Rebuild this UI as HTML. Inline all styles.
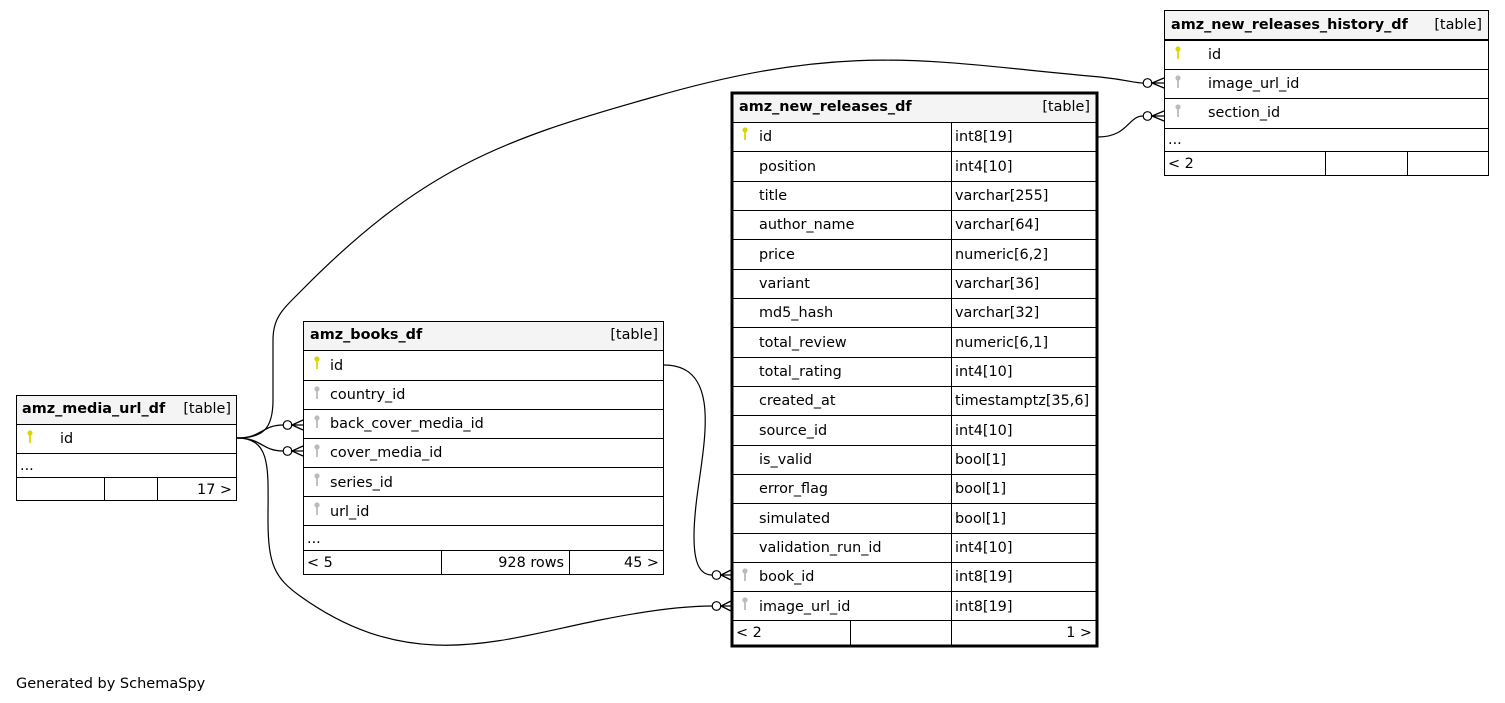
<!DOCTYPE html>
<html><head><meta charset="utf-8"><style>
html,body{margin:0;padding:0;background:#fff;}
svg{display:block;font-family:"DejaVu Sans","Liberation Sans",sans-serif;font-size:14.4px;}
</style></head><body>
<svg width="1505" height="703" viewBox="0 0 1505 703" xmlns="http://www.w3.org/2000/svg">
<defs>
<g id="kp"><circle cx="0" cy="-3" r="2.6" fill="#d8d800"/><rect x="-0.9" y="-1" width="1.8" height="8" fill="#d8d800"/></g>
<g id="kf"><circle cx="0" cy="-3" r="2.6" fill="#bbb"/><rect x="-0.9" y="-1" width="1.8" height="8" fill="#bbb"/></g>
</defs>
<g fill="none" stroke="#000" stroke-width="1.2">
<path d="M237,438 C262,438 273,430 273,400 L273,340 C273,318 282,310 300,292 C420,170 500,140 650,98 C850,40 930,62 1100,77 C1128,80 1135,83 1143,83"/>
<path d="M237,438 C262,438 262,425 283,425"/>
<path d="M237,438 C262,438 262,451 283,451"/>
<path d="M237,438 C272,438 268,470 268,520 C268,565 275,578 300,596 C410,675 500,640 600,620 C655,609 690,606 712,606"/>
<path d="M664,365 C725,365 702,450 696,505 C690,560 698,575 712,575"/>
<path d="M1098,137 C1128,137 1128,116 1143,116"/>
</g>
<g fill="#fff" stroke="#000" stroke-width="1.2">
<circle cx="287.5" cy="425" r="4.3"/><circle cx="287.5" cy="451" r="4.3"/>
<circle cx="716.5" cy="575" r="4.3"/><circle cx="716.5" cy="606" r="4.3"/>
<circle cx="1147.5" cy="83" r="4.3"/><circle cx="1147.5" cy="116" r="4.3"/>
</g>
<g fill="none" stroke="#000" stroke-width="1.3">
<path d="M303,420 L292,425 L303,430 M292,425 L303,425"/>
<path d="M303,446 L292,451 L303,456 M292,451 L303,451"/>
<path d="M731,570 L721,575 L731,580 M721,575 L731,575"/>
<path d="M731,601 L721,606 L731,611 M721,606 L731,606"/>
<path d="M1164,78 L1152,83 L1164,88 M1152,83 L1164,83"/>
<path d="M1164,111 L1152,116 L1164,121 M1152,116 L1164,116"/>
</g>

<!-- amz_media_url_df -->
<rect x="16.5" y="395.5" width="220" height="29" fill="#f4f4f4" stroke="#000"/>
<g stroke="#000" fill="none">
<rect x="16.5" y="395.5" width="220" height="105"/>
<path d="M16,424.5H237M16,453.5H237M16,477.5H237M104.5,477V501M157.5,477V501"/>
</g>
<text x="22" y="413" font-weight="bold">amz_media_url_df</text>
<text x="231" y="413" text-anchor="end">[table]</text>
<use href="#kp" x="30" y="436"/><text x="60" y="443">id</text>
<text x="20" y="470">...</text>
<text x="232" y="494" text-anchor="end">17 &gt;</text>

<!-- amz_books_df -->
<rect x="303.5" y="321.5" width="360" height="29" fill="#f4f4f4" stroke="#000"/>
<g stroke="#000" fill="none">
<rect x="303.5" y="321.5" width="360" height="253"/>
<path d="M303,350.5H664M303,380.5H664M303,409.5H664M303,438.5H664M303,467.5H664M303,496.5H664M303,525.5H664M303,550.5H664M441.5,550V575M569.5,550V575"/>
</g>
<text x="310" y="339" font-weight="bold">amz_books_df</text>
<text x="658" y="339" text-anchor="end">[table]</text>
<use href="#kp" x="317" y="362"/><text x="330" y="370">id</text>
<use href="#kf" x="317" y="392"/><text x="330" y="399">country_id</text>
<use href="#kf" x="317" y="421"/><text x="330" y="428">back_cover_media_id</text>
<use href="#kf" x="317" y="450"/><text x="330" y="457">cover_media_id</text>
<use href="#kf" x="317" y="479"/><text x="330" y="487">series_id</text>
<use href="#kf" x="317" y="508"/><text x="330" y="516">url_id</text>
<text x="307" y="543">...</text>
<text x="307" y="567">&lt; 5</text>
<text x="564" y="567" text-anchor="end">928 rows</text>
<text x="659" y="567" text-anchor="end">45 &gt;</text>

<!-- amz_new_releases_df -->
<rect x="732" y="93" width="365" height="29" fill="#f4f4f4"/>
<g stroke="#000" fill="none">
<path d="M732,122.5H1097M732,151.5H1097M732,181.5H1097M732,210.5H1097M732,239.5H1097M732,269.5H1097M732,298.5H1097M732,327.5H1097M732,357.5H1097M732,386.5H1097M732,415.5H1097M732,445.5H1097M732,474.5H1097M732,503.5H1097M732,533.5H1097M732,562.5H1097M732,591.5H1097M732,620.5H1097M951.5,122V647M850.5,620V647"/>
<rect x="732" y="93" width="365" height="553" stroke-width="3"/>
</g>
<text x="739" y="111" font-weight="bold">amz_new_releases_df</text>
<text x="1090" y="111" text-anchor="end">[table]</text>
<use href="#kp" x="745" y="133"/>
<g>
<text x="759" y="141">id</text><text x="955" y="141">int8[19]</text>
<text x="759" y="171">position</text><text x="955" y="171">int4[10]</text>
<text x="759" y="200">title</text><text x="955" y="200">varchar[255]</text>
<text x="759" y="229">author_name</text><text x="955" y="229">varchar[64]</text>
<text x="759" y="259">price</text><text x="955" y="259">numeric[6,2]</text>
<text x="759" y="288">variant</text><text x="955" y="288">varchar[36]</text>
<text x="759" y="317">md5_hash</text><text x="955" y="317">varchar[32]</text>
<text x="759" y="347">total_review</text><text x="955" y="347">numeric[6,1]</text>
<text x="759" y="376">total_rating</text><text x="955" y="376">int4[10]</text>
<text x="759" y="405">created_at</text><text x="955" y="405">timestamptz[35,6]</text>
<text x="759" y="435">source_id</text><text x="955" y="435">int4[10]</text>
<text x="759" y="464">is_valid</text><text x="955" y="464">bool[1]</text>
<text x="759" y="493">error_flag</text><text x="955" y="493">bool[1]</text>
<text x="759" y="523">simulated</text><text x="955" y="523">bool[1]</text>
<text x="759" y="552">validation_run_id</text><text x="955" y="552">int4[10]</text>
<text x="759" y="581">book_id</text><text x="955" y="581">int8[19]</text>
<text x="759" y="611">image_url_id</text><text x="955" y="611">int8[19]</text>
</g>
<use href="#kf" x="745" y="574"/><use href="#kf" x="745" y="603"/>
<text x="736" y="637">&lt; 2</text>
<text x="1092" y="637" text-anchor="end">1 &gt;</text>

<!-- amz_new_releases_history_df -->
<rect x="1164.5" y="10.5" width="324" height="29" fill="#f4f4f4" stroke="#000"/>
<g stroke="#000" fill="none">
<rect x="1164.5" y="10.5" width="324" height="165"/>
<path d="M1164,40.5H1489M1164,69.5H1489M1164,98.5H1489M1164,128.5H1489M1164,151.5H1489M1325.5,151V176M1407.5,151V176"/>
</g>
<text x="1171" y="29" font-weight="bold">amz_new_releases_history_df</text>
<text x="1482" y="29" text-anchor="end">[table]</text>
<use href="#kp" x="1178" y="52"/><text x="1208" y="59">id</text>
<use href="#kf" x="1178" y="81"/><text x="1208" y="88">image_url_id</text>
<use href="#kf" x="1178" y="110"/><text x="1208" y="117">section_id</text>
<text x="1168" y="144">...</text>
<text x="1168" y="168">&lt; 2</text>

<text x="16" y="688" font-size="14.5px">Generated by SchemaSpy</text>
</svg>
</body></html>
